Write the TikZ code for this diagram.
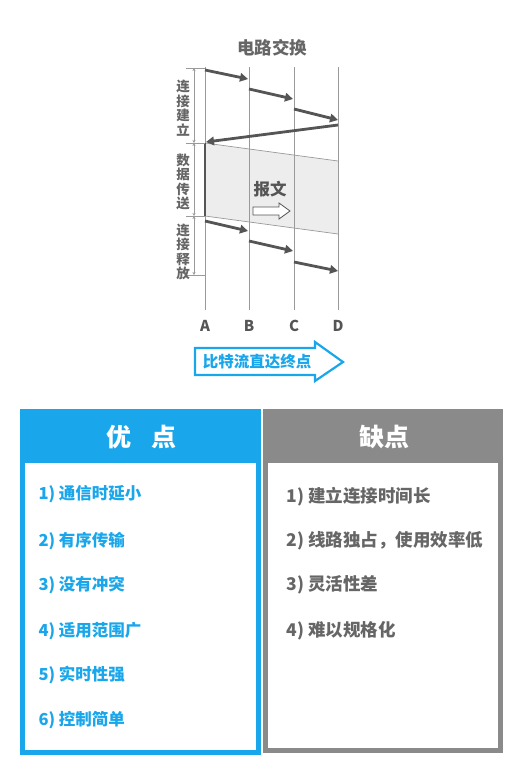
\documentclass[tikz,border=0pt]{standalone}
\usepackage{fontspec}
\setmainfont{Noto Sans CJK SC}
\usepackage{xcolor}
\usetikzlibrary{arrows.meta, positioning, calc}

\definecolor{problue}{HTML}{19A6EB}
\definecolor{congray}{HTML}{8A8A8A}
\definecolor{sigdark}{HTML}{555555}
\definecolor{linegray}{HTML}{9A9A9A}
\definecolor{textgray}{HTML}{666666}
\definecolor{msgfill}{HTML}{EDEDED}

\tikzset{
  timeline/.style={draw=linegray, line width=0.8pt},
  signal/.style={draw=sigdark, line width=2.8pt, -{Triangle[length=8pt, width=8.5pt]}},
  spanbar/.style={draw=linegray, line width=0.6pt, {Stealth[length=3pt, width=3pt]}-{Stealth[length=3pt, width=3pt]}},
  spantick/.style={draw=linegray, line width=0.6pt},
  phase/.style={text=textgray, align=center, font=\fontsize{13.5}{14.5}\selectfont\bfseries},
  station/.style={text=sigdark, font=\fontsize{15}{15}\selectfont\bfseries},
  head/.style={text=white, font=\fontsize{25}{25}\selectfont\bfseries},
  proitem/.style={anchor=west, text=problue, font=\fontsize{16.5}{16.5}\selectfont\bfseries},
  conitem/.style={anchor=west, text=textgray, font=\fontsize{17.5}{17.5}\selectfont\bfseries},
}

\begin{document}
\begin{tikzpicture}[x=1pt, y=-1pt]
    \useasboundingbox (0,0) rectangle (529,761);

    % Title
    \node (title) at (272,48) {\fontsize{17.5}{17.5}\selectfont\bfseries\color{textgray}电路交换};

    % Message block (data transfer)
    \coordinate (m1) at (205,143);
    \coordinate (m2) at (338,161);
    \coordinate (m3) at (338,234);
    \coordinate (m4) at (205,216);
    \fill[msgfill] (m1) -- (m2) -- (m3) -- (m4) -- cycle;
    \draw[linegray, line width=0.7pt] (m1) -- (m2);
    \draw[linegray, line width=0.7pt] (m4) -- (m3);

    % Time lines
    \coordinate (At) at (205,67);  \coordinate (Ab) at (205,310);
    \coordinate (Bt) at (249,67);  \coordinate (Bb) at (249,310);
    \coordinate (Ct) at (294,67);  \coordinate (Cb) at (294,310);
    \coordinate (Dt) at (338,67);  \coordinate (Db) at (338,310);
    \draw[timeline] (At) -- (Ab);
    \draw[timeline] (Bt) -- (Bb);
    \draw[timeline] (Ct) -- (Cb);
    \draw[timeline] (Dt) -- (Db);
    \draw[sigdark, line width=1.2pt] (m1) -- (m4);

    % Connection setup
    \coordinate (c1) at (205,70);  \coordinate (c2) at (248,79);
    \coordinate (c3) at (249,89);  \coordinate (c4) at (293,99);
    \coordinate (c5) at (294,109); \coordinate (c6) at (338,120);
    \coordinate (c7) at (338,125); \coordinate (c8) at (206,142);
    \draw[signal] (c1) -- (c2);
    \draw[signal] (c3) -- (c4);
    \draw[signal] (c5) -- (c6);
    \draw[signal] (c7) -- (c8);

    % Message label
    \node (msg) at (270,189) {\fontsize{16.5}{16.5}\selectfont\bfseries\color{sigdark}报文};
    \draw[sigdark, line width=0.8pt, fill=white]
        (253,207) -- (279,207) -- (279,203) -- (290,211) -- (279,219) -- (279,215) -- (253,215) -- cycle;

    % Connection release
    \coordinate (r1) at (205,221); \coordinate (r2) at (248,231);
    \coordinate (r3) at (249,241); \coordinate (r4) at (293,251);
    \coordinate (r5) at (294,262); \coordinate (r6) at (338,271);
    \draw[signal] (r1) -- (r2);
    \draw[signal] (r3) -- (r4);
    \draw[signal] (r5) -- (r6);

    % Phase spans
    \coordinate (p1) at (194,68);  \coordinate (p2) at (194,143);
    \coordinate (p3) at (194,216); \coordinate (p4) at (194,275);
    \draw[spantick] (186,68) -- (205,68);
    \draw[spantick] (186,143) -- (205,143);
    \draw[spantick] (186,216) -- (205,216);
    \draw[spantick] (186,275) -- (205,275);
    \draw[spanbar] (p1) -- (p2);
    \draw[spanbar] (p2) -- (p3);
    \draw[spanbar] (p3) -- (p4);
    \node[phase] (setup) at (183,108) {连\\接\\建\\立};
    \node[phase] (transfer) at (183,182) {数\\据\\传\\送};
    \node[phase] (release) at (183,252) {连\\接\\释\\放};

    % Stations
    \node[station] (A) at (205,326) {A};
    \node[station] (B) at (249,326) {B};
    \node[station] (C) at (294,326) {C};
    \node[station] (D) at (338,326) {D};

    % Bit stream arrow
    \draw[problue, line width=2.2pt, line join=miter, fill=white]
        (195,348) -- (315,348) -- (315,342) -- (343,362) -- (315,381) -- (315,375) -- (195,375) -- cycle;
    \node (flow) at (257,362) {\fontsize{15.5}{15.5}\selectfont\bfseries\color{problue}比特流直达终点};

    % Advantages
    \fill[problue] (20,409) rectangle (261,755);
    \fill[white] (25,463) rectangle (256,750);
    \node[head] (prohead) at (141,437) {优\hspace{0.8em}点};
    \node[proitem] (pro1) at (35,494) {1) 通信时延小};
    \node[proitem] (pro2) at (35,541) {2) 有序传输};
    \node[proitem] (pro3) at (35,585) {3) 没有冲突};
    \node[proitem] (pro4) at (35,631) {4) 适用范围广};
    \node[proitem] (pro5) at (35,675) {5) 实时性强};
    \node[proitem] (pro6) at (35,720) {6) 控制简单};

    % Disadvantages
    \fill[congray] (263,409) rectangle (503,753);
    \fill[white] (268,463) rectangle (498,748);
    \node[head] (conhead) at (384,437) {缺点};
    \node[conitem] (con1) at (283,497) {1) 建立连接时间长};
    \node[conitem] (con2) at (283,541) {2) 线路独占，使用效率低};
    \node[conitem] (con3) at (283,585) {3) 灵活性差};
    \node[conitem] (con4) at (283,631) {4) 难以规格化};
\end{tikzpicture}
\end{document}
